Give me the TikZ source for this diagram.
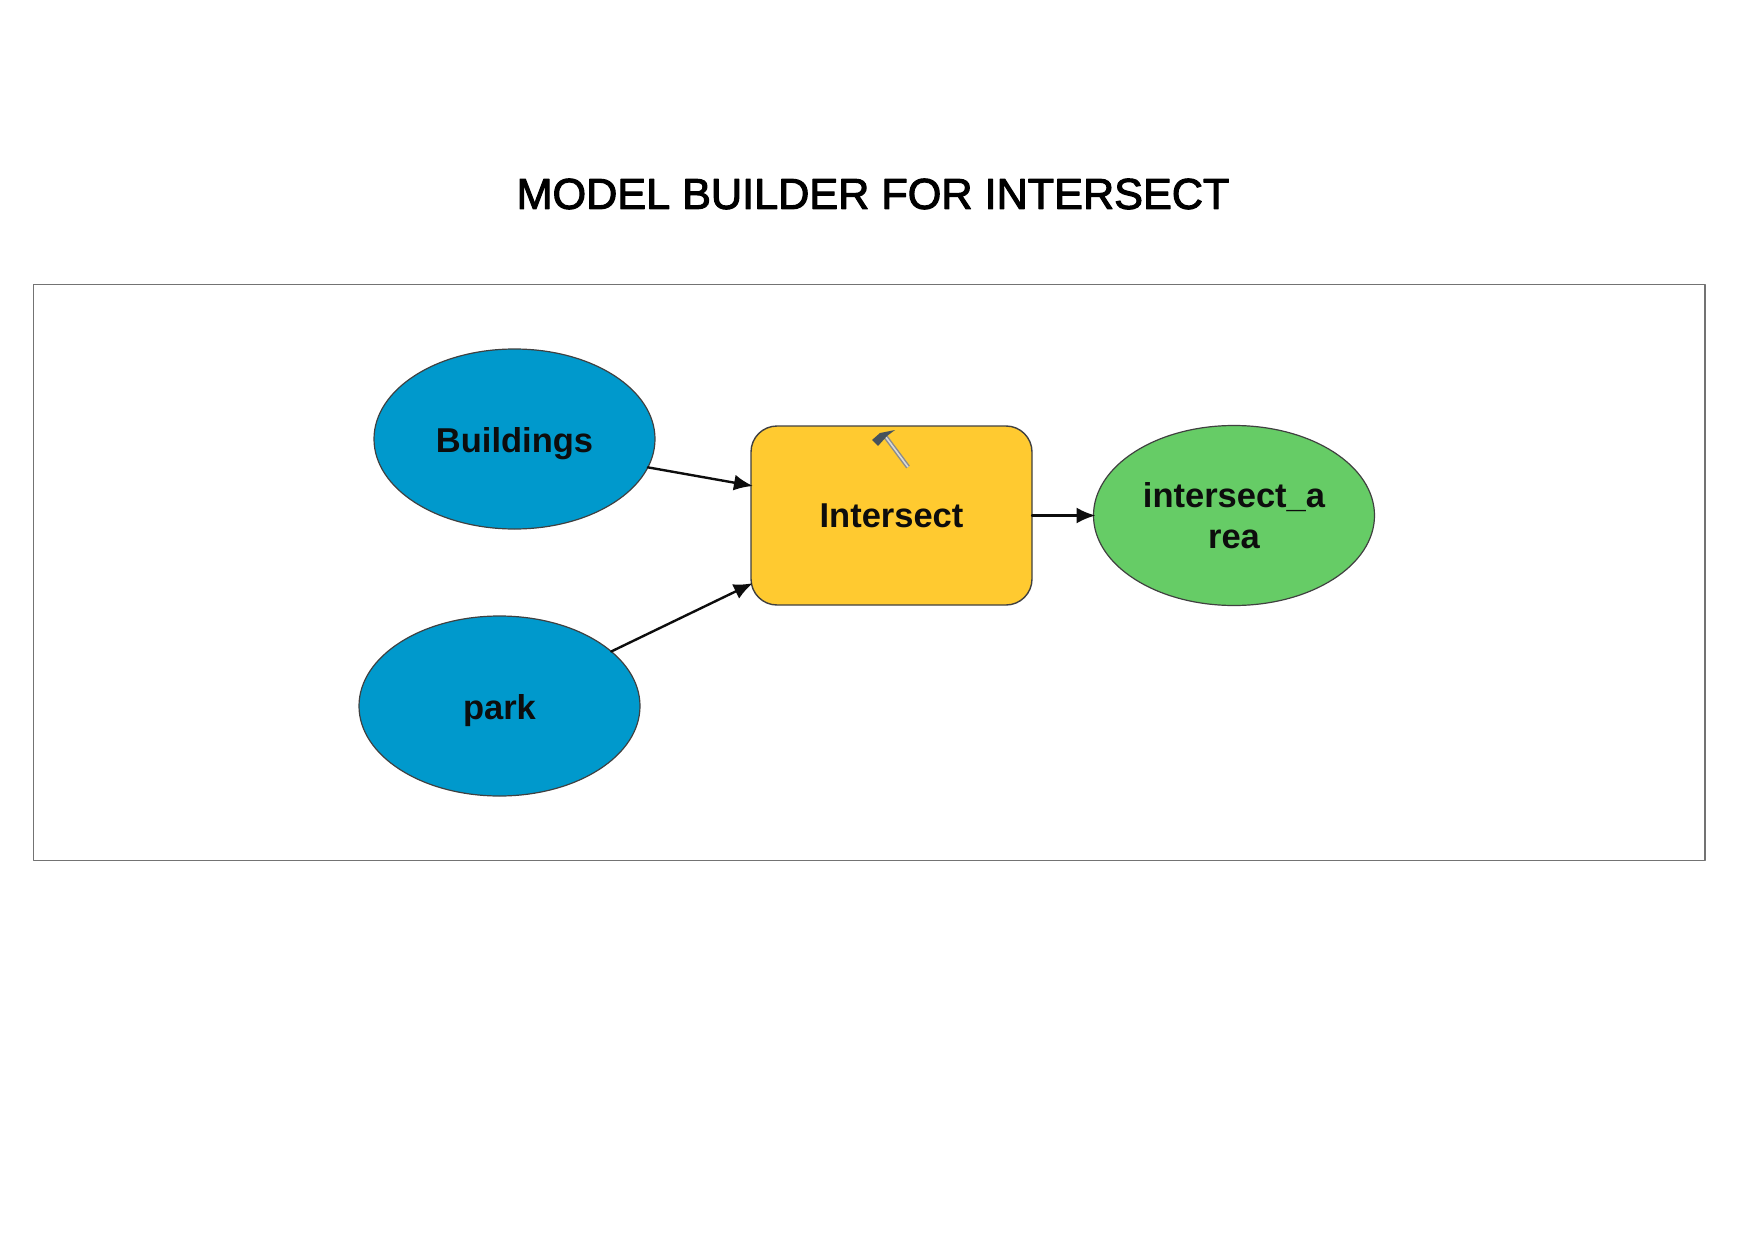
\documentclass[tikz,border=0pt]{standalone}
\usepackage{fontspec}
\setmainfont{Liberation Sans}
\newfontfamily\titlefont[FakeBold=2.5]{Liberation Sans}
\usetikzlibrary{shapes.geometric,arrows.meta}
\definecolor{dataBlue}{HTML}{0099CC}
\definecolor{toolYellow}{HTML}{FFCA30}
\definecolor{outGreen}{HTML}{66CC66}
\definecolor{hammerHead}{HTML}{46525C}
\tikzset{
  dataset/.style={ellipse,draw=black!75,line width=1.2pt,outer sep=0pt,minimum width=281pt,minimum height=180pt,inner sep=0pt,
    align=center,font=\fontsize{34.5}{41}\selectfont\bfseries,text=black!95},
  lowtext/.style={text depth=0pt,text height=27pt},
  tool/.style={rectangle,rounded corners=26pt,draw=black!75,line width=1.4pt,outer sep=0pt,fill=toolYellow,minimum width=281pt,minimum height=179pt,inner sep=0pt,
    font=\fontsize{34.5}{41}\selectfont\bfseries,text=black!95},
  link/.style={line width=2.4pt,black!95,shorten >=-2pt,-{Latex[length=19pt,width=16pt]}}
}
\begin{document}
\begin{tikzpicture}[x=1pt,y=-1pt,line cap=round,line join=round]
      \useasboundingbox (0,0) rectangle (1749,1236);
      \node[font=\fontsize{43.2}{43}\titlefont] (title) at (873,194) {MODEL BUILDER FOR INTERSECT};
      \draw[black!55,line width=1.2pt] (33.5,284.5) rectangle (1705,860.5);

      \node[dataset,lowtext,fill=dataBlue] (buildings) at (514.5,439) {Buildings};
      \node[dataset,lowtext,fill=dataBlue] (park) at (499.5,706) {park};
      \node[tool] (intersect) at (891.5,515.5) {Intersect};
      \node[dataset,fill=outGreen] (area) at (1234,515.5) {intersect\_a\\rea};

      \draw[link] (buildings.-12.4) -- (intersect.168.5);
      \draw[link] (park.26.6) -- (intersect.206);
      \draw[link] (intersect) -- (area);

      % hammer
      \draw[black!45,line width=4.5pt,line cap=butt] (885,436) -- (908,467);
      \draw[white!85!black,line width=1.6pt,line cap=butt] (885,436) -- (908,467);
      \fill[hammerHead] (872,440) -- (880,433) -- (895,430) -- (887,436) -- (878,446) -- cycle;
\end{tikzpicture}
\end{document}
